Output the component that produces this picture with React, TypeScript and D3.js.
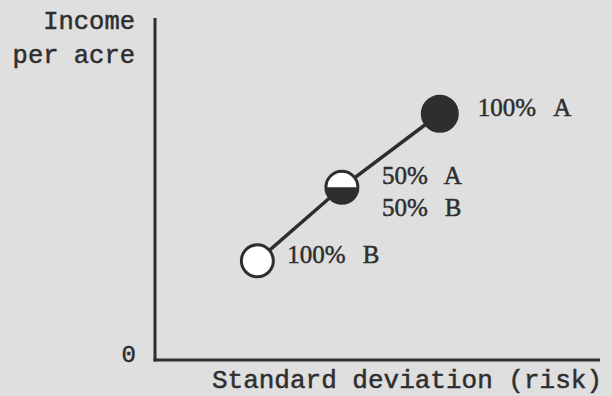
import React from "react";
import * as d3 from "d3";

const W = 612;
const H = 396;

const mixes = ["100% B", "50% A / 50% B", "100% A"];
const riskValues = [2.3, 4.2, 6.4];
const incomeValues = [2.9, 5.05, 7.2];
const shareA = [0, 0.5, 1];
const labelLines = [["100%", "B"], ["50%", "A", "50%", "B"], ["100%", "A"]];
const yTickLabels = ["0"];
const yAxisTitle = ["Income", "per acre"];
const xAxisTitle = "Standard deviation (risk)";

const BG = "#dfdfdf";
const INK = "#2e2e2e";
const MONO = "'Liberation Mono', 'Courier New', monospace";
const SERIF = "'Liberation Serif', 'Times New Roman', serif";

export default function App() {
  const x = d3.scaleLinear().domain([0, 10]).range([155, 600]);
  const y = d3.scaleLinear().domain([0, 10]).range([360, 18]);
  const pts = mixes.map((m, i) => ({ m, rx: riskValues[i], iy: incomeValues[i], a: shareA[i], lab: labelLines[i] }));
  const line = d3.line<any>().x((d) => x(d.rx)).y((d) => y(d.iy));
  const r = 16;
  const halfArc = d3.arc()({ innerRadius: 0, outerRadius: r, startAngle: Math.PI / 2, endAngle: (3 * Math.PI) / 2 } as any);
  const heavy = { stroke: INK, strokeWidth: 0.5 };

  return (
    <svg width={W} height={H} style={{ position: "absolute", left: 0, top: 0, display: "block" }}>
      <rect width={W} height={H} fill={BG} />
      {/* axes */}
      <line x1={x(0)} x2={x(0)} y1={y(10)} y2={y(0) + 1.5} stroke={INK} strokeWidth={3} />
      <line x1={x(0) - 1.5} x2={x(10)} y1={y(0)} y2={y(0)} stroke={INK} strokeWidth={3} />
      {yTickLabels.map((t) => (
        <text key={t} x={x(0) - 19} y={y(0) + 2} textAnchor="end" fontFamily={MONO} fontSize={24} fill={INK} {...heavy}>{t}</text>
      ))}
      <text x={135} y={29} textAnchor="end" fontFamily={MONO} fontSize={25.5} fill={INK} {...heavy}>{yAxisTitle[0]}</text>
      <text x={135} y={63} textAnchor="end" fontFamily={MONO} fontSize={25.5} fill={INK} {...heavy}>{yAxisTitle[1]}</text>
      <text x={602} y={388} textAnchor="end" fontFamily={MONO} fontSize={26} fill={INK} {...heavy}>{xAxisTitle}</text>
      {/* connecting line */}
      <path d={line(pts) || ""} fill="none" stroke={INK} strokeWidth={3.5} />
      {/* markers */}
      {pts.map((p, i) => {
        const cx = x(p.rx);
        const cy = y(p.iy);
        return (
          <g key={i} transform={`translate(${cx},${cy})`}>
            <circle r={p.a === 1 ? r + 1.5 : r} fill={p.a === 1 ? INK : "#ffffff"} stroke={INK} strokeWidth={3} />
            {p.a === 0.5 && <path d={halfArc || ""} fill={INK} />}
          </g>
        );
      })}
      {/* labels */}
      {pts.map((p, i) => {
        const cx = x(p.rx);
        const cy = y(p.iy);
        if (p.lab.length === 4) {
          return (
            <g key={"l" + i} fontFamily={SERIF} fontSize={25} fill={INK} {...heavy}>
              <text x={cx + 40} y={cy - 3}>{p.lab[0]}<tspan dx={16}>{p.lab[1]}</tspan></text>
              <text x={cx + 40} y={cy + 29}>{p.lab[2]}<tspan dx={17}>{p.lab[3]}</tspan></text>
            </g>
          );
        }
        const off = p.a === 1 ? 38 : 30;
        return (
          <text key={"l" + i} x={cx + off} y={cy + 2} fontFamily={SERIF} fontSize={25} fill={INK} {...heavy}>
            {p.lab[0]}<tspan dx={17}>{p.lab[1]}</tspan>
          </text>
        );
      })}
    </svg>
  );
}
